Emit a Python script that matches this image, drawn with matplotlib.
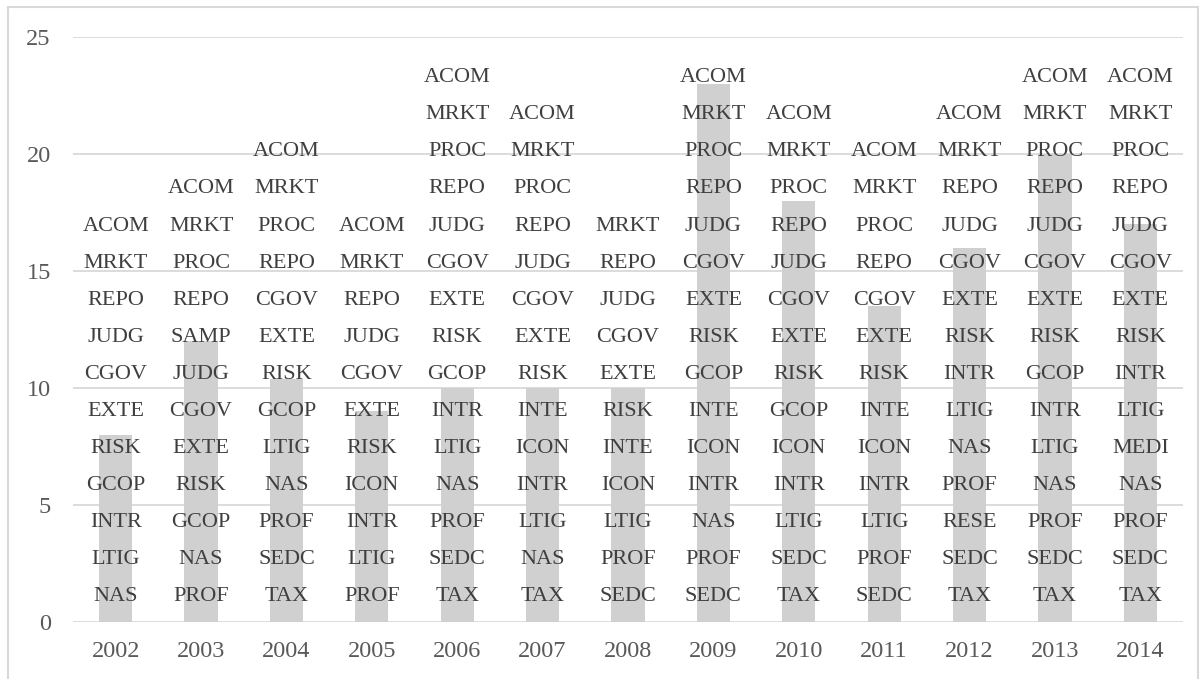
import matplotlib
matplotlib.use("Agg")
import matplotlib.pyplot as plt
from matplotlib.patches import Rectangle

years = ["2002", "2003", "2004", "2005", "2006", "2007", "2008",
         "2009", "2010", "2011", "2012", "2013", "2014"]
values = [8, 12, 10.4, 9, 10, 10, 10, 23, 18, 13.5, 16, 20, 17]

# labels listed top to bottom as they appear in each column
labels_2002 = ["ACOM", "MRKT", "REPO", "JUDG", "CGOV", "EXTE", "RISK", "GCOP", "INTR", "LTIG", "NAS"]
labels_2003 = ["ACOM", "MRKT", "PROC", "REPO", "SAMP", "JUDG", "CGOV", "EXTE", "RISK", "GCOP", "NAS", "PROF"]
labels_2004 = ["ACOM", "MRKT", "PROC", "REPO", "CGOV", "EXTE", "RISK", "GCOP", "LTIG", "NAS", "PROF", "SEDC", "TAX"]
labels_2005 = ["ACOM", "MRKT", "REPO", "JUDG", "CGOV", "EXTE", "RISK", "ICON", "INTR", "LTIG", "PROF"]
labels_2006 = ["ACOM", "MRKT", "PROC", "REPO", "JUDG", "CGOV", "EXTE", "RISK", "GCOP", "INTR", "LTIG", "NAS", "PROF", "SEDC", "TAX"]
labels_2007 = ["ACOM", "MRKT", "PROC", "REPO", "JUDG", "CGOV", "EXTE", "RISK", "INTE", "ICON", "INTR", "LTIG", "NAS", "TAX"]
labels_2008 = ["MRKT", "REPO", "JUDG", "CGOV", "EXTE", "RISK", "INTE", "ICON", "LTIG", "PROF", "SEDC"]
labels_2009 = ["ACOM", "MRKT", "PROC", "REPO", "JUDG", "CGOV", "EXTE", "RISK", "GCOP", "INTE", "ICON", "INTR", "NAS", "PROF", "SEDC"]
labels_2010 = ["ACOM", "MRKT", "PROC", "REPO", "JUDG", "CGOV", "EXTE", "RISK", "GCOP", "ICON", "INTR", "LTIG", "SEDC", "TAX"]
labels_2011 = ["ACOM", "MRKT", "PROC", "REPO", "CGOV", "EXTE", "RISK", "INTE", "ICON", "INTR", "LTIG", "PROF", "SEDC"]
labels_2012 = ["ACOM", "MRKT", "REPO", "JUDG", "CGOV", "EXTE", "RISK", "INTR", "LTIG", "NAS", "PROF", "RESE", "SEDC", "TAX"]
labels_2013 = ["ACOM", "MRKT", "PROC", "REPO", "JUDG", "CGOV", "EXTE", "RISK", "GCOP", "INTR", "LTIG", "NAS", "PROF", "SEDC", "TAX"]
labels_2014 = ["ACOM", "MRKT", "PROC", "REPO", "JUDG", "CGOV", "EXTE", "RISK", "INTR", "LTIG", "MEDI", "NAS", "PROF", "SEDC", "TAX"]

column_labels = [labels_2002, labels_2003, labels_2004, labels_2005, labels_2006,
                 labels_2007, labels_2008, labels_2009, labels_2010, labels_2011,
                 labels_2012, labels_2013, labels_2014]

yticks = [0, 5, 10, 15, 20, 25]

plt.rcParams['font.family'] = ['Liberation Serif', 'DejaVu Serif']

fig = plt.figure(figsize=(12.03, 6.79), dpi=100)
fig.patches.append(Rectangle((8 / 1203, -0.05), (1198 - 8) / 1203, 1 - 7 / 679 + 0.05,
                             transform=fig.transFigure, fill=False,
                             edgecolor="#d9d9d9", linewidth=1.5, zorder=0))
ax = fig.add_axes([73 / 1203, 1 - 622 / 679, (1183 - 73) / 1203, (622 - 37) / 679])

x = list(range(len(years)))
ax.bar(x, values, width=0.39, color="#d0d0d0", zorder=2)

ax.set_xlim(-0.5, len(years) - 0.5)
ax.set_ylim(0, 25)
ax.set_yticks(yticks)
ax.set_yticklabels([str(t) for t in yticks])
ax.set_xticks(x)
ax.set_xticklabels(years)
ax.tick_params(axis="both", length=0, labelsize=17.5, labelcolor="#595959")
ax.tick_params(axis="x", pad=14)
ax.tick_params(axis="y", pad=16)
ax.grid(axis="y", color="#d9d9d9", linewidth=1.3, zorder=1)
ax.set_axisbelow(True)
for s in ax.spines.values():
    s.set_visible(False)

y0 = 1.07
step = 1.585
for xi, labs in zip(x, column_labels):
    n = len(labs)
    for k, lab in enumerate(labs):
        ax.text(xi, y0 + (n - 1 - k) * step, lab, ha="center", va="center",
                fontsize=16, color="#3f3f3f", zorder=3)

fig.savefig("out.png", dpi=100)
